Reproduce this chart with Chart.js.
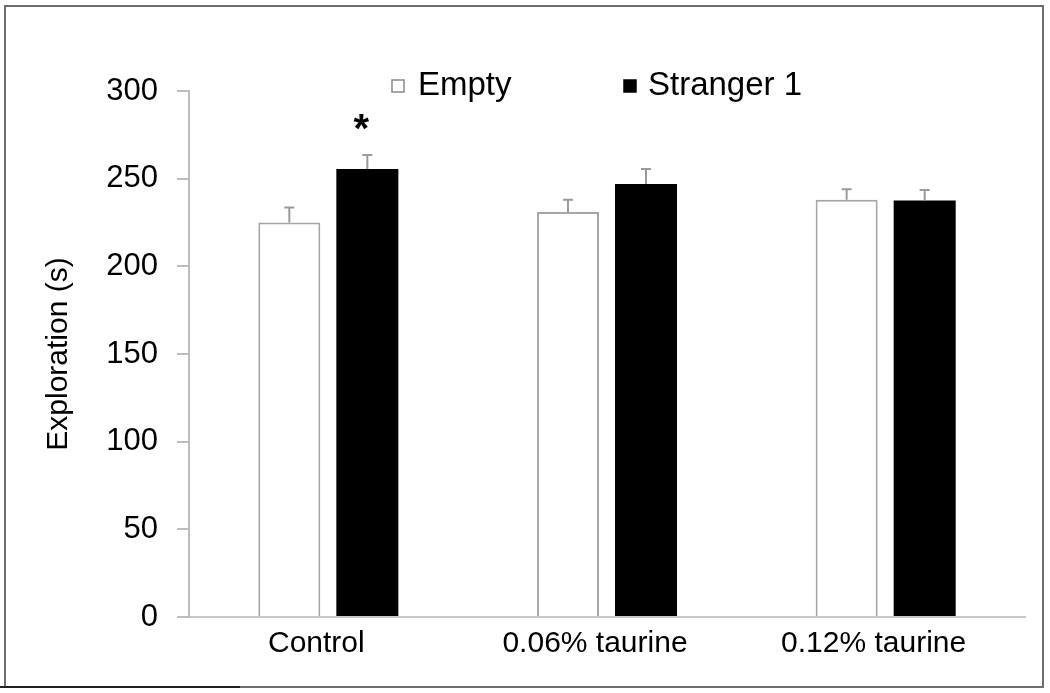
<!DOCTYPE html>
<html><head><meta charset="utf-8">
<script src="https://cdn.jsdelivr.net/npm/chart.js@4/dist/chart.umd.min.js"></script>
<style>html,body{margin:0;padding:0;background:#fff;}#wrap{width:1050px;height:693px;position:relative}</style>
</head><body><div id="wrap"><canvas id="c" width="1050" height="693"></canvas></div>
<script>
const categories = ['Control', '0.06% taurine', '0.12% taurine'];
const emptyValues = [225, 231, 238];
const emptyErrors = [8.5, 7, 6];
const strangerValues = [255.5, 247, 237.5];
const strangerErrors = [8, 8.5, 6];
const significance = ['*', '', ''];
const seriesNames = ['Empty', 'Stranger 1'];
const yTitle = 'Exploration (s)';

const FONT = "'Liberation Sans', Arial, sans-serif";

const errorBarPlugin = {
  id: 'errorBars',
  afterDatasetsDraw(chart) {
    const ctx = chart.ctx;
    const ys = chart.scales.y;
    ctx.save();
    ctx.strokeStyle = '#9a9a9a';
    ctx.lineWidth = 2;
    chart.data.datasets.forEach((ds, di) => {
      const meta = chart.getDatasetMeta(di);
      meta.data.forEach((bar, i) => {
        const top = ys.getPixelForValue(ds.data[i] + ds.errors[i]);
        ctx.beginPath();
        ctx.moveTo(bar.x, bar.y);
        ctx.lineTo(bar.x, top);
        ctx.moveTo(bar.x - 5, top);
        ctx.lineTo(bar.x + 5, top);
        ctx.stroke();
      });
    });
    const meta1 = chart.getDatasetMeta(1);
    ctx.fillStyle = '#000';
    ctx.font = 'bold 40px ' + FONT;
    ctx.textAlign = 'center';
    ctx.textBaseline = 'middle';
    significance.forEach((s, i) => {
      if (!s) return;
      const ds = chart.data.datasets[1];
      const top = ys.getPixelForValue(ds.data[i] + ds.errors[i]);
      ctx.fillText(s, meta1.data[i].x - 6, top - 24);
    });
    ctx.restore();
  }
};

const framePlugin = {
  id: 'frame',
  beforeDraw(chart) {
    const ctx = chart.ctx;
    ctx.save();
    ctx.fillStyle = '#fff';
    ctx.fillRect(0, 0, chart.width, chart.height);
    ctx.restore();
  },
  afterDraw(chart) {
    const ctx = chart.ctx;
    ctx.save();
    ctx.strokeStyle = '#6e6e6e';
    ctx.lineWidth = 2;
    ctx.strokeRect(5, 6, 1038, 681);
    ctx.strokeStyle = '#222';
    ctx.beginPath();
    ctx.moveTo(0, 687); ctx.lineTo(240, 687);
    ctx.stroke();
    ctx.font = '33px ' + FONT;
    ctx.textBaseline = 'middle';
    ctx.textAlign = 'left';
    const items = [
      {sq: 392, tx: 418, fill: '#fff', stroke: '#8a8a8a'},
      {sq: 624, tx: 648, fill: '#000', stroke: '#000'}
    ];
    items.forEach((it, k) => {
      ctx.fillStyle = it.fill;
      ctx.fillRect(it.sq, 80, 12, 12);
      ctx.strokeStyle = it.stroke;
      ctx.lineWidth = 1.5;
      ctx.strokeRect(it.sq, 80, 12, 12);
      ctx.fillStyle = '#000';
      ctx.fillText(seriesNames[k], it.tx, 86);
    });
    ctx.restore();
  }
};

new Chart(document.getElementById('c'), {
  type: 'bar',
  data: {
    labels: categories,
    datasets: [
      {label: seriesNames[0], data: emptyValues, errors: emptyErrors,
       backgroundColor: '#fff', borderColor: '#a6a6a6', borderWidth: 2,
       categoryPercentage: 0.56, barPercentage: 0.795},
      {label: seriesNames[1], data: strangerValues, errors: strangerErrors,
       backgroundColor: '#000', borderColor: '#000', borderWidth: 0,
       categoryPercentage: 0.56, barPercentage: 0.795}
    ]
  },
  options: {
    responsive: false,
    devicePixelRatio: 1,
    animation: false,
    layout: {padding: {left: 0, top: 91, right: 25, bottom: 0}},
    plugins: {legend: {display: false}, tooltip: {enabled: false}},
    scales: {
      x: {
        grid: {display: false, drawTicks: false},
        border: {display: true, color: '#c8c8c8', width: 2},
        ticks: {color: '#000', font: {family: FONT, size: 30}, padding: 9, maxRotation: 0, labelOffset: -12},
        afterFit(s) { s.height = 76; }
      },
      y: {
        min: 0, max: 300,
        ticks: {stepSize: 50, color: '#000', font: {family: FONT, size: 31}, padding: 19},
        grid: {display: true, drawOnChartArea: false, drawTicks: true, tickLength: 12, color: '#bdbdbd', lineWidth: 2},
        border: {display: true, color: '#bdbdbd', width: 2},
        title: {display: true, text: yTitle, color: '#000', font: {family: FONT, size: 30}, padding: {top: 41, bottom: 0}},
        afterFit(s) { s.width = 189; }
      }
    }
  },
  plugins: [errorBarPlugin, framePlugin]
});
</script></body></html>
